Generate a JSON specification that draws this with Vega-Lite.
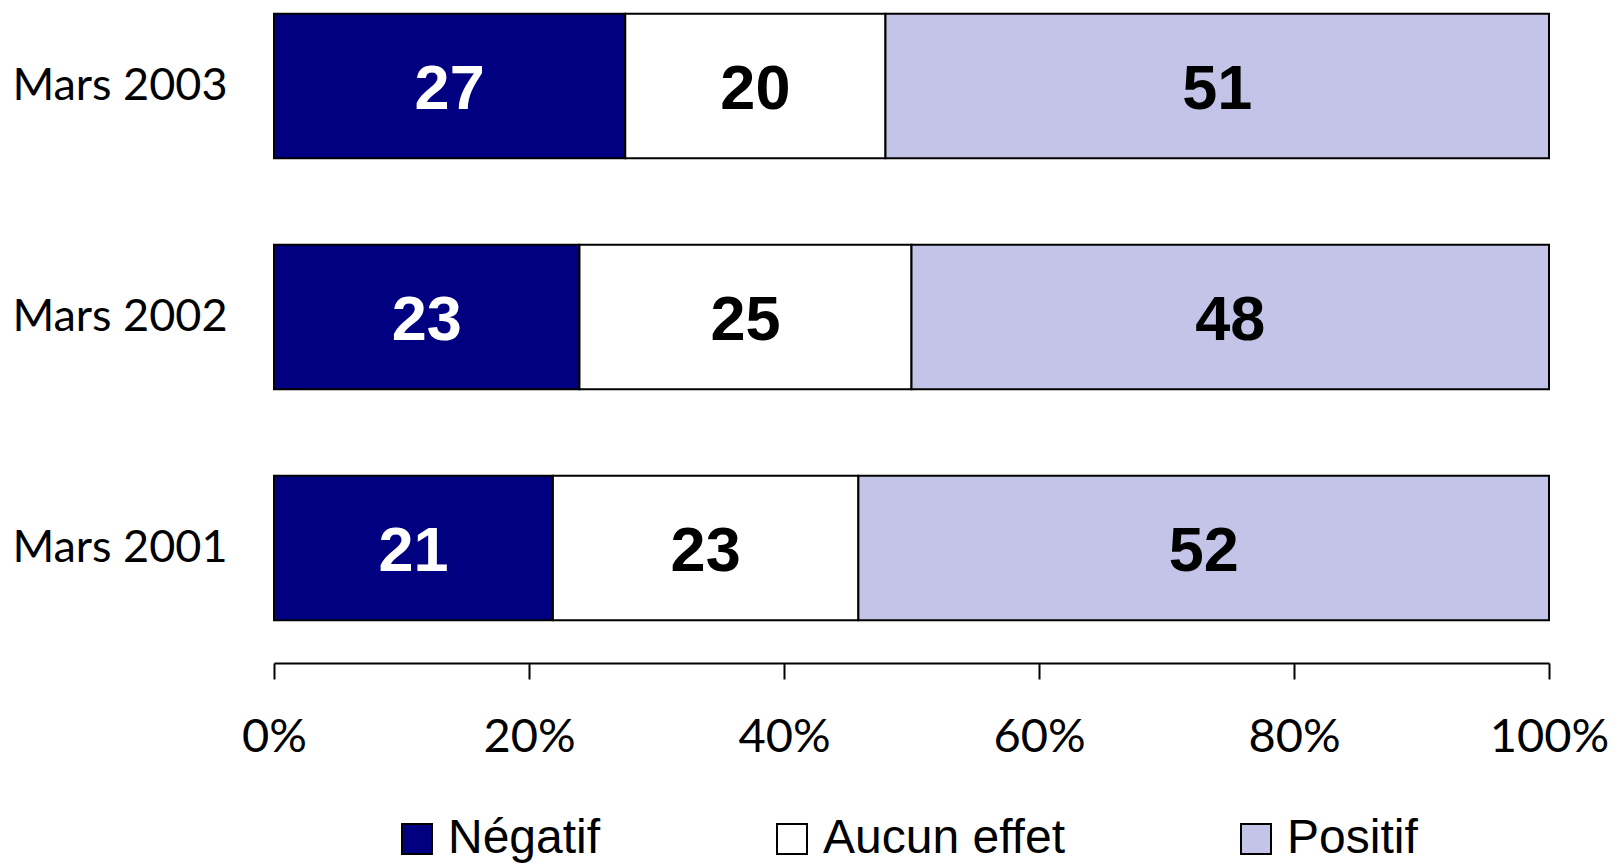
{
  "$schema": "https://vega.github.io/schema/vega-lite/v6.json",
  "autosize": {"type": "none"},
  "width": 1275,
  "height": 634,
  "padding": {"left": 274, "top": 0, "right": 65, "bottom": 230},
  "background": "white",
  "config": {"view": {"stroke": null}},
  "data": {
    "values": [
      {"year": "Mars 2003", "cat": "Négatif", "ord": 1, "value": 27},
      {"year": "Mars 2003", "cat": "Aucun effet", "ord": 2, "value": 20},
      {"year": "Mars 2003", "cat": "Positif", "ord": 3, "value": 51},
      {"year": "Mars 2002", "cat": "Négatif", "ord": 1, "value": 23},
      {"year": "Mars 2002", "cat": "Aucun effet", "ord": 2, "value": 25},
      {"year": "Mars 2002", "cat": "Positif", "ord": 3, "value": 48},
      {"year": "Mars 2001", "cat": "Négatif", "ord": 1, "value": 21},
      {"year": "Mars 2001", "cat": "Aucun effet", "ord": 2, "value": 23},
      {"year": "Mars 2001", "cat": "Positif", "ord": 3, "value": 52}
    ]
  },
  "encoding": {
    "y": {
      "field": "year", "type": "nominal",
      "sort": ["Mars 2003", "Mars 2002", "Mars 2001"],
      "scale": {"paddingInner": 0.375, "paddingOuter": 0.06},
      "axis": {
        "title": null, "domain": false, "ticks": false,
        "labelFont": "Lato", "labelFontSize": 45, "labelColor": "black",
        "labelPadding": 47, "labelLimit": 0
      }
    },
    "x": {
      "field": "value", "type": "quantitative", "stack": "normalize",
      "scale": {"domain": [0, 1], "nice": false},
      "axis": {
        "title": null, "format": ".0%", "values": [0, 0.2, 0.4, 0.6, 0.8, 1],
        "grid": false, "offset": 29,
        "domainColor": "black", "domainWidth": 2,
        "tickColor": "black", "tickWidth": 2, "tickSize": 16,
        "labelFont": "Lato", "labelFontSize": 47, "labelColor": "black",
        "labelPadding": 35, "labelFlush": false
      }
    },
    "order": {"field": "ord", "type": "quantitative"}
  },
  "layer": [
    {
      "mark": {"type": "bar", "stroke": "black", "strokeWidth": 2},
      "encoding": {
        "color": {
          "field": "cat", "type": "nominal",
          "scale": {
            "domain": ["Négatif", "Aucun effet", "Positif"],
            "range": ["#000080", "#ffffff", "#c4c4e8"]
          },
          "legend": {
            "title": null, "orient": "none", "direction": "horizontal",
            "legendX": 119, "legendY": 815,
            "symbolType": "square", "symbolSize": 900,
            "symbolStrokeColor": "black", "symbolStrokeWidth": 2,
            "labelFont": "Liberation Sans", "labelFontSize": 48,
            "labelColor": "black", "labelOffset": 7,
            "columnPadding": 167, "padding": 0, "labelLimit": 400
          }
        }
      }
    },
    {
      "mark": {"type": "text", "font": "Liberation Sans", "fontSize": 63, "fontWeight": "bold", "dy": 4},
      "encoding": {
        "x": {"field": "value", "type": "quantitative", "stack": "normalize", "bandPosition": 0.5},
        "detail": {"field": "cat", "type": "nominal"},
        "text": {"field": "value", "type": "quantitative"},
        "color": {
          "condition": {"test": "datum.cat === 'Négatif'", "value": "white"},
          "value": "black"
        }
      }
    }
  ]
}
